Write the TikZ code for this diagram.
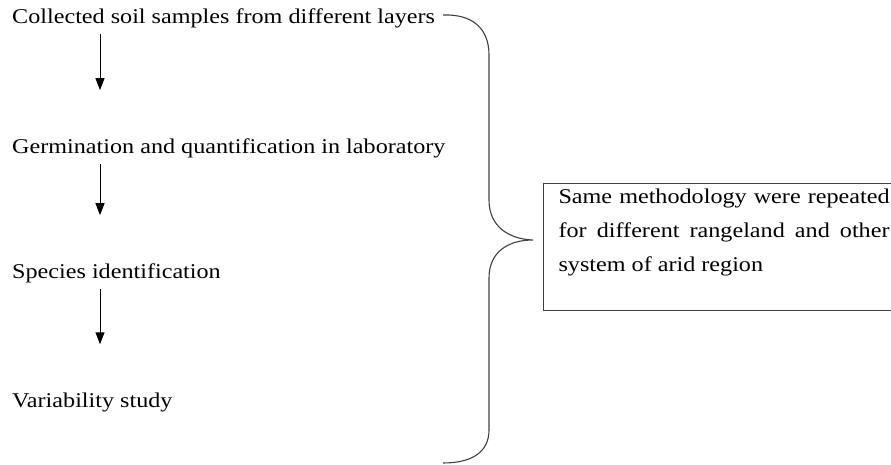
\documentclass[tikz,border=0pt]{standalone}
\usepackage{fontspec}
\setmainfont{Liberation Serif}[FakeStretch=1.15]
\usetikzlibrary{positioning,arrows.meta,calc}
\tikzstyle{steptext} = [inner sep=0pt, anchor=west, font=\fontsize{21}{34}\selectfont]
\tikzstyle{arrow} = [-{Triangle[length=12pt,width=9pt]}, line width=1pt, shorten <=6pt, shorten >=48pt]
\tikzstyle{notebox} = [draw=black!75, line width=1.1pt, anchor=north west, text width=331pt, align=justify, inner xsep=15pt, inner ysep=5pt, font=\fontsize{21}{34}\selectfont, execute at begin node={\hyphenpenalty=10000\relax}]
\tikzstyle{bracket} = [draw=black!75, line width=1.1pt]

\begin{document}
\begin{tikzpicture}
    \useasboundingbox (0,0) rectangle (891pt,-465pt);
    % steps on the left
    \node[steptext] (collect) at (12pt,-18pt) {Collected soil samples from different layers};
    \node[steptext, below=130pt of collect.west, anchor=west] (germ) {Germination and quantification in laboratory};
    \node[steptext, below=125pt of germ.west, anchor=west] (species) {Species identification};
    \node[steptext, below=129pt of species.west, anchor=west] (variab) {Variability study};
    % arrows between the steps
    \draw [arrow] ([xshift=88pt]collect.south west) -- ([xshift=88pt]germ.north west);
    \draw [arrow] ([xshift=88pt]germ.south west) -- ([xshift=88pt]species.north west);
    \draw [arrow] ([xshift=88pt]species.south west) -- ([xshift=88pt]variab.north west);
    % note box and brace
    \node[notebox] (note) at (543pt,-183pt) {Same methodology were repeated for different rangeland and other system of arid region\par\nointerlineskip\vbox to 30pt{}};
    \coordinate (tip) at (533pt,-240pt);
    \draw [bracket] (443pt,-15pt) .. controls (472pt,-14pt) and (489pt,-28pt) .. (489pt,-55pt)
        -- (489pt,-200pt) .. controls (489pt,-226pt) and (508pt,-239pt) .. (tip)
        .. controls (508pt,-240pt) and (489pt,-252pt) .. (489pt,-278pt)
        -- (489pt,-430pt) .. controls (489pt,-452pt) and (472pt,-463pt) .. (443pt,-463pt);
\end{tikzpicture}
\end{document}
